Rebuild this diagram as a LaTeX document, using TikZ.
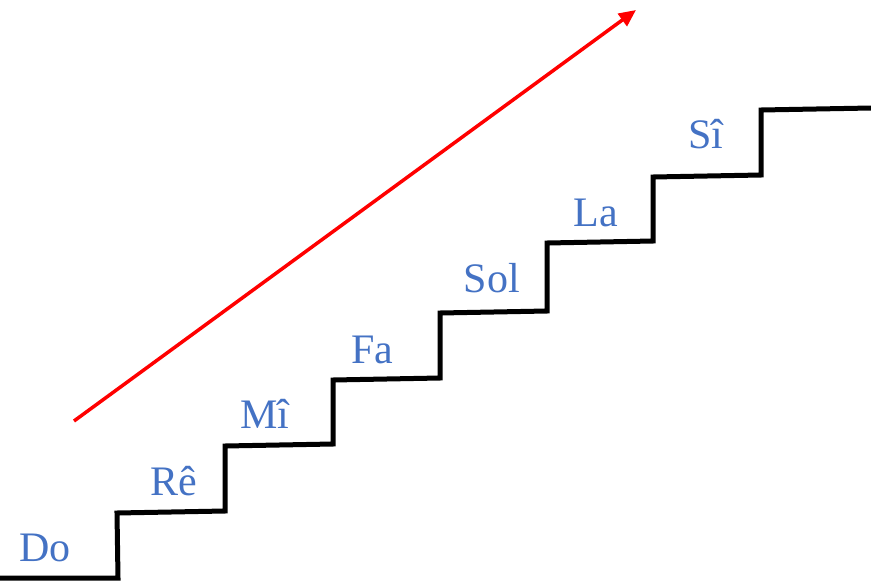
\documentclass[tikz,border=0pt]{standalone}
\usepackage{fontspec}
\setmainfont{Liberation Serif}
\usepackage{tikz}
\usetikzlibrary{arrows.meta}
\definecolor{NoteBlue}{RGB}{68,114,196}
\definecolor{RiseRed}{RGB}{255,0,0}
\tikzset{
	stair/.style={draw=black,line width=5pt,line join=miter},
	note/.style={text=NoteBlue,font=\fontsize{42}{50}\selectfont,anchor=base,inner sep=0pt},
	rise/.style={draw=RiseRed,line width=3.5pt,-{Triangle[length=17pt,width=15pt]}},
}
\begin{document}
\begin{tikzpicture}[x=1pt,y=-1pt]
	\useasboundingbox (0,0) rectangle (871,582);
	% staircase
	\draw[stair] (0,578)--(118,578)--(117,513)--(225,511)--(225,446)--(333,444)
		--(333,380)--(440,378)--(440,313)--(547,311)--(547,243)--(653,241)
		--(653,177)--(761,175)--(761,110)--(871,108);
	% note names
	\node[note] (do) at (45,561) {Do};
	\node[note] (re) at (174,495) {Rê};
	\node[note] (mi) at (265,428) {Mî};
	\node[note] (fa) at (372,363) {Fa};
	\node[note] (sol) at (492,292) {Sol};
	\node[note] (la) at (596,226) {La};
	\node[note] (si) at (706,148) {Sî};
	% direction
	\coordinate (start) at (74,421);
	\coordinate (end) at (636,10);
	\draw[rise] (start)--(end);
\end{tikzpicture}
\end{document}
